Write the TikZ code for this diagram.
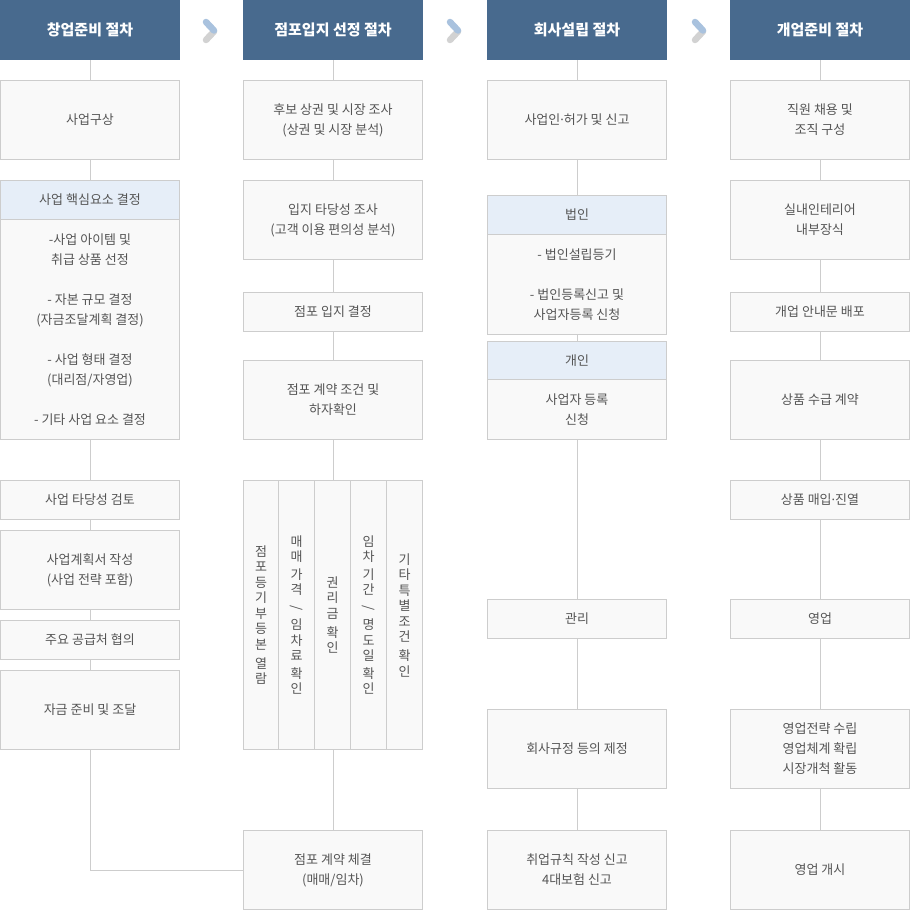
\documentclass[tikz,border=0pt]{standalone}
\usepackage{fontspec}
\setmainfont{Noto Sans CJK KR}
\newfontfamily\latinf{Noto Sans}
\definecolor{hdr}{HTML}{486A8E}
\definecolor{subfill}{HTML}{E6EEF8}
\definecolor{boxfill}{HTML}{F9F9F9}
\definecolor{edge}{HTML}{CDCDCD}
\definecolor{txt}{HTML}{555555}
\definecolor{chevA}{HTML}{A9C2DE}
\definecolor{chevB}{HTML}{D2D2D2}
\tikzset{
  base/.style={anchor=north west, inner sep=0pt, outer sep=0pt, align=center, text=txt, font=\fontsize{13}{20}\selectfont},
  hbox/.style={base, fill=hdr, text=white, font=\fontsize{15}{20}\selectfont\bfseries},
  pbox/.style={base, draw=edge, fill=boxfill, line width=1pt},
  sbox/.style={pbox, fill=subfill},
  vbox/.style={pbox, font=\fontsize{13}{15.5}\selectfont},
  link/.style={draw=edge, line width=1pt},
  chev/.style={line width=6.5pt, line cap=round},
}
\newcommand\mybox[7]{\node[#1, minimum width=#5pt, minimum height=#6pt] (#2) at (#3,#4) {#7};}
\newcommand\rs{\rotatebox[origin=c]{-90}{/}}
\newcommand\mdot{{\latinf ·}}
\begin{document}
\begin{tikzpicture}[x=1pt,y=-1pt]
\useasboundingbox[fill=white] (0,0) rectangle (910,910);
% headers
\mybox{hbox}{h1}{0}{0}{180}{60}{창업준비 절차}
\mybox{hbox}{h2}{243}{0}{180}{60}{점포입지 선정 절차}
\mybox{hbox}{h3}{487}{0}{180}{60}{회사설립 절차}
\mybox{hbox}{h4}{730}{0}{180}{60}{개업준비 절차}
% chevrons
\foreach \dx in {0,244,489}{
  \draw[chev, chevB] (206+\dx,40) -- (214+\dx,31.5);
  \draw[chev, chevA] (206+\dx,22) -- (214+\dx,30.5);
}
% column 1
\mybox{pbox}{a1}{0.5}{80.5}{179}{79}{사업구상}
\mybox{sbox}{a2h}{0.5}{180.5}{179}{39}{사업 핵심요소 결정}
\mybox{pbox}{a2b}{0.5}{219.5}{179}{220}{-사업 아이템 및\\취급 상품 선정\\[20pt]- 자본 규모 결정\\(자금조달계획 결정)\\[20pt]- 사업 형태 결정\\(대리점/자영업)\\[20pt]- 기타 사업 요소 결정}
\mybox{pbox}{a3}{0.5}{480.5}{179}{39}{사업 타당성 검토}
\mybox{pbox}{a4}{0.5}{530.5}{179}{79}{사업계획서 작성\\(사업 전략 포함)}
\mybox{pbox}{a5}{0.5}{620.5}{179}{39}{주요 공급처 협의}
\mybox{pbox}{a6}{0.5}{670.5}{179}{79}{자금 준비 및 조달}
% column 2
\mybox{pbox}{b1}{243.5}{80.5}{179}{79}{후보 상권 및 시장 조사\\(상권 및 시장 분석)}
\mybox{pbox}{b2}{243.5}{180.5}{179}{79}{입지 타당성 조사\\(고객 이용 편의성 분석)}
\mybox{pbox}{b3}{243.5}{292.5}{179}{39}{점포 입지 결정}
\mybox{pbox}{b4}{243.5}{360.5}{179}{79}{점포 계약 조건 및\\하자확인}
\mybox{vbox}{v1}{243.5}{480.5}{35}{269}{점\\포\\등\\기\\부\\등\\본\\[3.5pt]열\\람}
\mybox{vbox}{v2}{278.5}{480.5}{36}{269}{매\\매\\[2pt]가\\격\\[2pt]\rs\\[2pt]임\\차\\료\\[2pt]확\\인}
\mybox{vbox}{v3}{314.5}{480.5}{36}{269}{권\\리\\금\\[3.5pt]확\\인}
\mybox{vbox}{v4}{350.5}{480.5}{36}{269}{임\\차\\[2pt]기\\간\\[2pt]\rs\\[2pt]명\\도\\일\\[2pt]확\\인}
\mybox{vbox}{v5}{386.5}{480.5}{36}{269}{기\\타\\특\\별\\조\\건\\[3.5pt]확\\인}
\mybox{pbox}{b6}{243.5}{830.5}{179}{79}{점포 계약 체결\\(매매/임차)}
% column 3
\mybox{pbox}{c1}{487.5}{80.5}{179}{79}{사업인\mdot 허가 및 신고}
\mybox{sbox}{c2h}{487.5}{195.5}{179}{39}{법인}
\mybox{pbox}{c2b}{487.5}{234.5}{179}{100}{- 법인설립등기\\[20pt]- 법인등록신고 및\\사업자등록 신청}
\mybox{sbox}{c3h}{487.5}{341.5}{179}{38}{개인}
\mybox{pbox}{c3b}{487.5}{379.5}{179}{60}{사업자 등록\\신청}
\mybox{pbox}{c4}{487.5}{599.5}{179}{39}{관리}
\mybox{pbox}{c5}{487.5}{709.5}{179}{79}{회사규정 등의 제정}
\mybox{pbox}{c6}{487.5}{830.5}{179}{79}{취업규칙 작성 신고\\4대보험 신고}
% column 4
\mybox{pbox}{d1}{730.5}{80.5}{179}{79}{직원 채용 및\\조직 구성}
\mybox{pbox}{d2}{730.5}{180.5}{179}{79}{실내인테리어\\내부장식}
\mybox{pbox}{d3}{730.5}{292.5}{179}{39}{개업 안내문 배포}
\mybox{pbox}{d4}{730.5}{360.5}{179}{79}{상품 수급 계약}
\mybox{pbox}{d5}{730.5}{480.5}{179}{39}{상품 매입\mdot 진열}
\mybox{pbox}{d6}{730.5}{599.5}{179}{39}{영업}
\mybox{pbox}{d7}{730.5}{709.5}{179}{79}{영업전략 수립\\영업체계 확립\\시장개척 활동}
\mybox{pbox}{d8}{730.5}{830.5}{179}{79}{영업 개시}
% connectors
\draw[link] (h1.south) -- (a1.north);
\draw[link] (a1.south) -- (a2h.north);
\draw[link] (a2b.south) -- (a3.north);
\draw[link] (a3.south) -- (a4.north);
\draw[link] (a4.south) -- (a5.north);
\draw[link] (a5.south) -- (a6.north);
\draw[link] (a6.south) |- (b6.west);
\draw[link] (h2.south) -- (b1.north);
\draw[link] (b1.south) -- (b2.north);
\draw[link] (b2.south) -- (b3.north);
\draw[link] (b3.south) -- (b4.north);
\draw[link] (b4.south) -- (b4.south |- v3.north);
\draw[link] (b6.north |- v3.south) -- (b6.north);
\draw[link] (h3.south) -- (c1.north);
\draw[link] (c1.south) -- (c2h.north);
\draw[link] (c2b.south) -- (c3h.north);
\draw[link] (c3b.south) -- (c4.north);
\draw[link] (c4.south) -- (c5.north);
\draw[link] (c5.south) -- (c6.north);
\draw[link] (h4.south) -- (d1.north);
\draw[link] (d1.south) -- (d2.north);
\draw[link] (d2.south) -- (d3.north);
\draw[link] (d3.south) -- (d4.north);
\draw[link] (d4.south) -- (d5.north);
\draw[link] (d5.south) -- (d6.north);
\draw[link] (d6.south) -- (d7.north);
\draw[link] (d7.south) -- (d8.north);
\end{tikzpicture}
\end{document}
